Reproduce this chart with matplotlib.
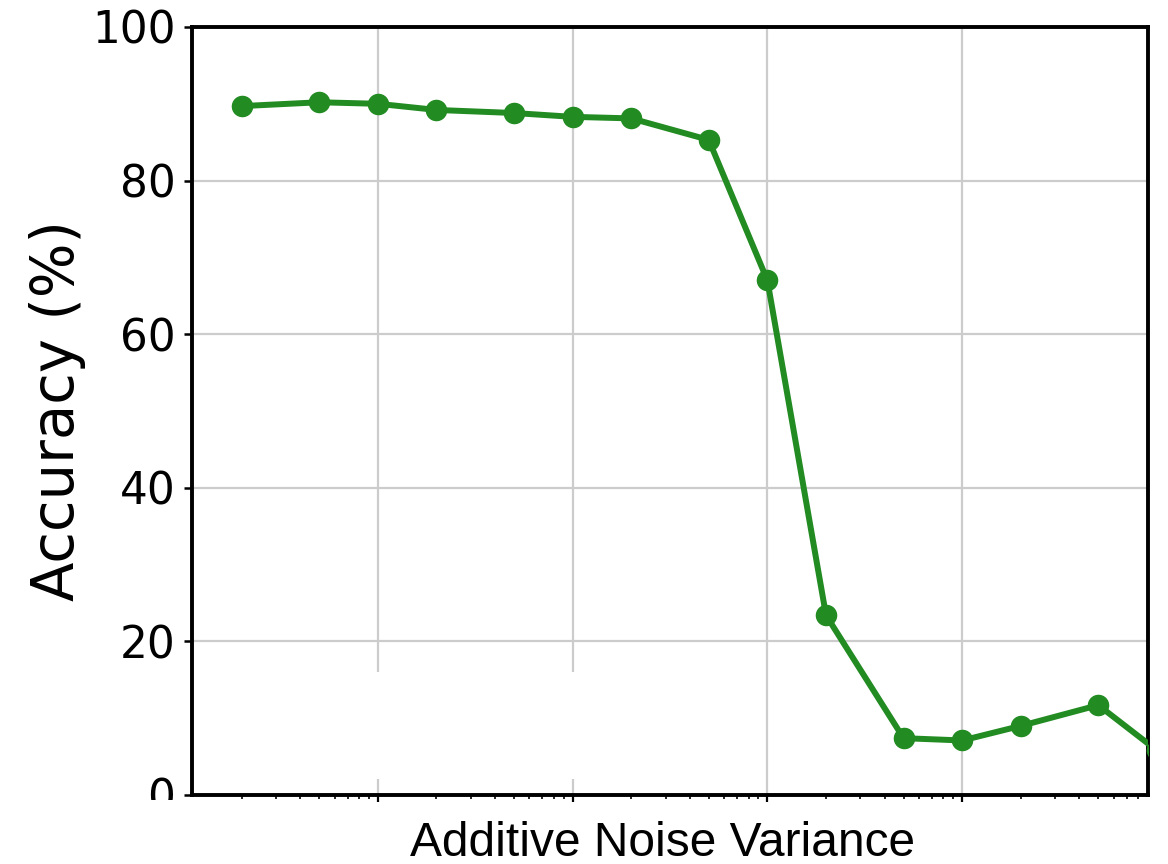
import matplotlib
matplotlib.use("Agg")
import matplotlib.pyplot as plt
from matplotlib.patches import Rectangle
from matplotlib.ticker import NullFormatter, LogLocator

# Data (x on a log scale; tick labels are not shown in the reference)
noise_variance = [0.002, 0.005, 0.01, 0.02, 0.05, 0.1, 0.2, 0.5,
                  1, 2, 5, 10, 20, 50, 100]
accuracy = [89.7, 90.2, 90.0, 89.2, 88.8, 88.3, 88.1, 85.3,
            67.0, 23.4, 7.4, 7.1, 9.0, 11.7, 5.8]
y_ticks = [0, 20, 40, 60, 80, 100]

fig = plt.figure(figsize=(11.68, 8.64), dpi=100)
ax = fig.add_axes([192/1168, 69/864, 956/1168, 768/864])

ax.plot(noise_variance, accuracy, color="#228B22", linewidth=4.3,
        marker="o", markersize=14.5, zorder=3)

ax.set_xscale("log")
ax.set_xlim(10**-2.954, 10**1.954)
ax.set_ylim(0, 100)
ax.set_yticks(y_ticks)
ax.xaxis.set_major_locator(LogLocator(base=10, numticks=20))
ax.xaxis.set_minor_locator(LogLocator(base=10, subs=range(2, 10), numticks=50))
ax.xaxis.set_major_formatter(NullFormatter())
ax.xaxis.set_minor_formatter(NullFormatter())

ax.grid(True, which="major", color="#cccccc", linewidth=1.6)
ax.set_axisbelow(True)

for s in ax.spines.values():
    s.set_linewidth(2.8)
    s.set_color("black")

ax.tick_params(axis="y", labelsize=31.5, length=6, width=1.8, pad=6)
ax.tick_params(axis="x", which="major", length=5, width=1.6)
ax.tick_params(axis="x", which="minor", length=3, width=1.2)
for lbl in ax.get_yticklabels():
    lbl.set_fontfamily("DejaVu Sans")

# white box over the lower-left grid region, as in the reference
ax.add_patch(Rectangle((0.02, 0.021), 0.48, 0.139, transform=ax.transAxes,
                       facecolor="white", edgecolor="none", zorder=1.6))

ax.set_ylabel("Accuracy (%)", fontsize=41.5, family="DejaVu Sans")
ax.yaxis.set_label_coords(-0.111, 0.5)

ax.set_xlabel("Additive Noise Variance", fontsize=34.5,
              family="Liberation Sans", va="baseline")
ax.xaxis.set_label_coords(0.492, -0.0795)

# white strip clipping the lower part of the "0" tick label
fig.patches.append(Rectangle((0, 0), 180/1168, 64/864, transform=fig.transFigure,
                             facecolor="white", edgecolor="none", zorder=5))

fig.savefig("out.png", dpi=100)
